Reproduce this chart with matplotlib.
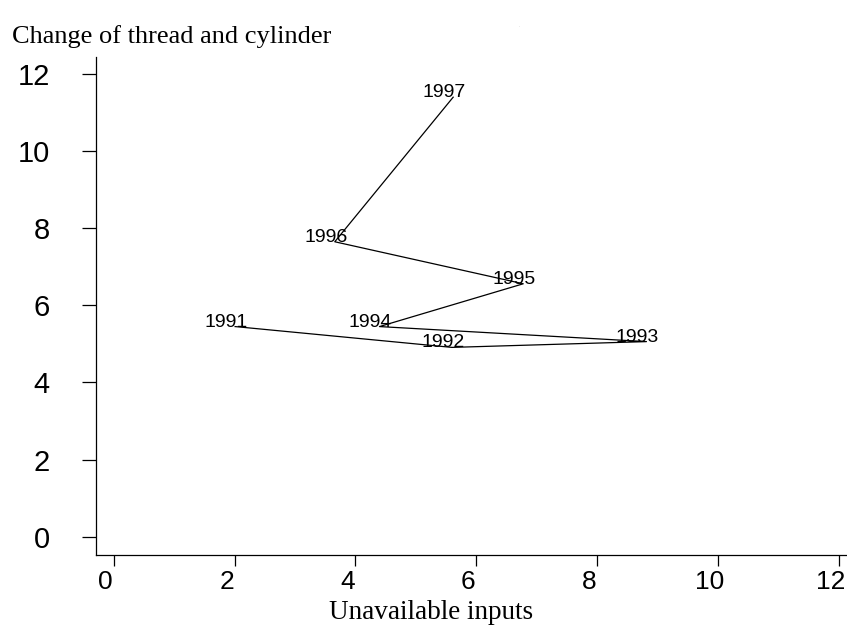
import matplotlib
matplotlib.use("Agg")
import matplotlib.pyplot as plt
import matplotlib.transforms as mtransforms

years = ["1991", "1992", "1993", "1994", "1995", "1996", "1997"]
unavailable_inputs = [2.01, 5.60, 8.82, 4.40, 6.78, 3.66, 5.62]
thread_cylinder = [5.45, 4.91, 5.06, 5.45, 6.56, 7.65, 11.40]
ticks = [0, 2, 4, 6, 8, 10, 12]

W, H = 847, 626
fig = plt.figure(figsize=(W / 100, H / 100), dpi=100)
fig.patch.set_facecolor("white")

left, right, top, bottom = 95.7, 847.0, 56.7, 555.0
ax = fig.add_axes([left / W, (H - bottom) / H, (right - left) / W, (bottom - top) / H])

ax.plot(unavailable_inputs, thread_cylinder, color="black", lw=0.9)
for x, y, t in zip(unavailable_inputs, thread_cylinder, years):
    ax.annotate(t, (x, y), xytext=(-6.5, 0), textcoords="offset points",
                ha="center", va="baseline", fontsize=14,
                family="Liberation Sans", color="black")

ax.set_xlim(-0.298, 12.14)
ax.set_ylim(-0.475, 12.45)
ax.set_xticks(ticks)
ax.set_yticks(ticks)
ax.set_xticklabels([str(t) for t in ticks], family="Liberation Sans", fontsize=19)
ax.set_yticklabels([str(t) for t in ticks], family="Liberation Sans", fontsize=21)
ax.tick_params(axis="y", length=10, width=0.9, pad=23)
ax.tick_params(axis="x", length=8, width=0.9, pad=3)
shift = mtransforms.ScaledTranslation(-8 / 100, 0, fig.dpi_scale_trans)
for lab in ax.get_xticklabels():
    lab.set_transform(lab.get_transform() + shift)
for s in ["top", "right"]:
    ax.spines[s].set_visible(False)
for s in ["left", "bottom"]:
    ax.spines[s].set_linewidth(0.9)

fig.text(431.5 / W, (H - 619) / H, "Unavailable inputs",
         family="Liberation Serif", fontsize=19.5, ha="center", va="baseline")
fig.text(11.7 / W, (H - 43) / H, "Change of thread and cylinder",
         family="Liberation Serif", fontsize=19, ha="left", va="baseline")
fig.text(519 / W, (H - 27) / H, ".", family="Liberation Sans", fontsize=3,
         color="#888888", ha="center")

fig.savefig("out.png", dpi=100)
